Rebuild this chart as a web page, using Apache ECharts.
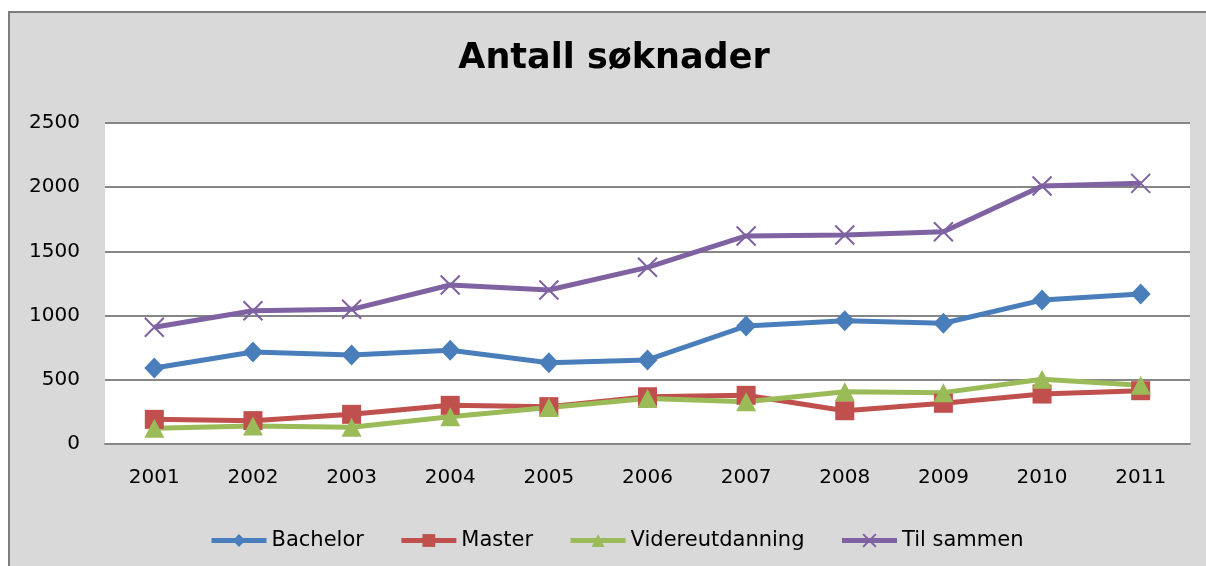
<!DOCTYPE html>
<html>
<head>
<meta charset="utf-8">
<script src="https://cdn.jsdelivr.net/npm/echarts@6/dist/echarts.min.js"></script>
<style>
html,body{margin:0;padding:0;background:#fff;overflow:hidden;}
#c{width:1206px;height:566px;}
</style>
</head>
<body>
<div id="c"></div>
<script>
var titleText = 'Antall søknader';
var categories = ['2001','2002','2003','2004','2005','2006','2007','2008','2009','2010','2011'];
var bachelor = [592, 716, 693, 730, 633, 655, 919, 960, 940, 1121, 1168];
var master = [192, 182, 231, 301, 291, 368, 379, 259, 317, 389, 415];
var videreutdanning = [122, 140, 130, 213, 285, 355, 329, 407, 400, 504, 457];
var tilSammen = [909, 1038, 1049, 1238, 1199, 1376, 1620, 1628, 1653, 2009, 2030];
var seriesNames = ['Bachelor', 'Master', 'Videreutdanning', 'Til sammen'];

var FONT = 'DejaVu Sans';
var chart = echarts.init(document.getElementById('c'), null, {renderer: 'canvas'});

function lineSeries(name, data, color, symbol, extra) {
  var s = {
    name: name,
    type: 'line',
    data: data,
    symbol: symbol,
    symbolSize: 19,
    showAllSymbol: true,
    lineStyle: {color: color, width: 5},
    itemStyle: {color: color},
    emphasis: {disabled: true},
    animation: false
  };
  if (extra) { for (var k in extra) s[k] = extra[k]; }
  return s;
}

chart.setOption({
  backgroundColor: '#ffffff',
  animation: false,
  graphic: [
    {type: 'rect', z: -10, silent: true,
     shape: {x: 8, y: 11, width: 1198, height: 555},
     style: {fill: '#d9d9d9'}},
    {type: 'polyline', z: -9, silent: true,
     shape: {points: [[9, 566], [9, 12], [1206, 12]]},
     style: {stroke: '#7f7f7f', lineWidth: 2, fill: null}},
    {type: 'text', z: 10, silent: true,
     style: {x: 614, y: 59, text: titleText, fill: '#000', font: 'bold 35px "DejaVu Sans"',
             textAlign: 'center', textVerticalAlign: 'middle'}}
  ],
  grid: {
    left: 105, right: 16, top: 123, bottom: 122,
    show: true, backgroundColor: '#ffffff', borderWidth: 0
  },
  legend: {
    left: 204, top: 525,
    itemWidth: 55, itemHeight: 16, itemGap: 35,
    lineStyle: {width: 5},
    textStyle: {fontFamily: FONT, fontSize: 21, color: '#000'},
    data: seriesNames
  },
  xAxis: {
    type: 'category',
    data: categories,
    boundaryGap: true,
    axisLine: {show: true, lineStyle: {color: '#868686', width: 2}},
    axisTick: {show: false},
    axisLabel: {color: '#000', fontFamily: FONT, fontSize: 20, margin: 24}
  },
  yAxis: {
    type: 'value',
    min: 0, max: 2500, interval: 500,
    axisLine: {show: false},
    axisTick: {show: false},
    splitLine: {lineStyle: {color: '#868686', width: 2}},
    axisLabel: {color: '#000', fontFamily: FONT, fontSize: 20, margin: 25,
                formatter: function (v) { return String(v); }}
  },
  series: [
    lineSeries(seriesNames[0], bachelor, '#4a7ebb', 'diamond', {symbolSize: [20, 21]}),
    lineSeries(seriesNames[1], master, '#c0504d', 'rect', {symbolSize: 19}),
    lineSeries(seriesNames[2], videreutdanning, '#9bbb59', 'triangle', {symbolSize: [20, 19]}),
    lineSeries(seriesNames[3], tilSammen, '#7f62a1', 'path://M0,0L10,10M10,0L0,10', {
      symbolSize: 19,
      itemStyle: {color: 'rgba(0,0,0,0)', borderColor: '#7f62a1', borderWidth: 2}
    })
  ]
});
</script>
</body>
</html>
